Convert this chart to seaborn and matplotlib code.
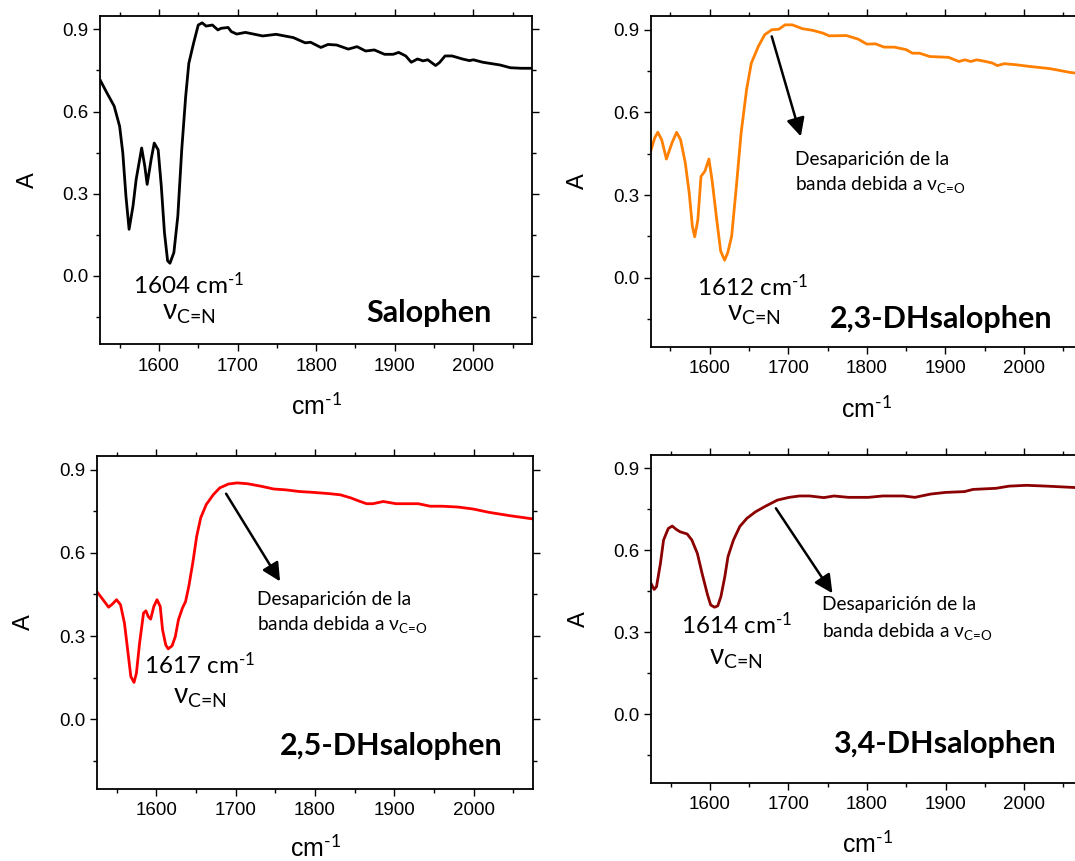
import matplotlib
matplotlib.use("Agg")
import matplotlib.pyplot as plt
from matplotlib.ticker import FixedLocator, MultipleLocator, FormatStrFormatter
import pandas as pd
import seaborn as sns

# ---------------------------------------------------------------- data
# Wavenumbers (cm-1) and absorbance for each compound
salophen_wn = [1525, 1534, 1543, 1550, 1554, 1558, 1562, 1567, 1571, 1578, 1582, 1585,
               1590, 1594, 1599, 1603, 1607, 1611, 1614, 1619, 1624, 1629, 1634, 1638,
               1644, 1650, 1655, 1660, 1668, 1675, 1679, 1688, 1692, 1699, 1710, 1732,
               1749, 1771, 1786, 1793, 1806, 1815, 1826, 1841, 1852, 1863, 1874, 1887,
               1898, 1905, 1914, 1921, 1929, 1936, 1942, 1952, 1957, 1964, 1973, 1986,
               1995, 2000, 2012, 2034, 2047, 2061, 2075]
salophen_abs = [0.716, 0.667, 0.620, 0.546, 0.449, 0.291, 0.170, 0.255, 0.352, 0.467, 0.400, 0.334,
                0.424, 0.485, 0.460, 0.327, 0.158, 0.055, 0.046, 0.085, 0.218, 0.461, 0.655, 0.776,
                0.849, 0.916, 0.924, 0.912, 0.916, 0.898, 0.904, 0.907, 0.892, 0.883, 0.889, 0.876,
                0.882, 0.870, 0.851, 0.853, 0.834, 0.845, 0.843, 0.828, 0.837, 0.821, 0.825, 0.809,
                0.809, 0.816, 0.803, 0.780, 0.792, 0.785, 0.789, 0.768, 0.779, 0.803, 0.803, 0.792,
                0.786, 0.789, 0.780, 0.770, 0.760, 0.758, 0.758]

dh23_wn = [1525, 1530, 1534, 1539, 1545, 1552, 1558, 1563, 1569, 1574, 1578, 1581,
           1585, 1589, 1594, 1599, 1603, 1609, 1614, 1619, 1623, 1628, 1634, 1640,
           1647, 1653, 1662, 1670, 1679, 1688, 1696, 1705, 1718, 1731, 1744, 1752,
           1774, 1789, 1800, 1811, 1822, 1835, 1850, 1858, 1867, 1880, 1904, 1917,
           1925, 1932, 1940, 1951, 1960, 1966, 1975, 1990, 2007, 2033, 2059, 2075]
dh23_abs = [0.459, 0.507, 0.528, 0.501, 0.431, 0.489, 0.528, 0.501, 0.417, 0.308, 0.187, 0.149,
            0.211, 0.368, 0.387, 0.431, 0.356, 0.211, 0.097, 0.064, 0.091, 0.151, 0.332, 0.525,
            0.683, 0.779, 0.840, 0.882, 0.900, 0.902, 0.918, 0.918, 0.904, 0.898, 0.888, 0.878,
            0.879, 0.866, 0.848, 0.849, 0.837, 0.837, 0.828, 0.815, 0.815, 0.803, 0.800, 0.785,
            0.791, 0.785, 0.791, 0.785, 0.779, 0.770, 0.777, 0.773, 0.767, 0.759, 0.745, 0.740]

dh25_wn = [1525, 1533, 1540, 1545, 1550, 1555, 1560, 1564, 1568, 1572, 1575, 1579,
           1584, 1587, 1590, 1593, 1597, 1601, 1605, 1608, 1612, 1615, 1620, 1624,
           1628, 1633, 1637, 1641, 1646, 1651, 1656, 1663, 1672, 1680, 1691, 1702,
           1715, 1732, 1748, 1763, 1780, 1797, 1819, 1832, 1845, 1856, 1865, 1873,
           1886, 1902, 1930, 1945, 1960, 1980, 1999, 2019, 2045, 2075]
dh25_abs = [0.461, 0.431, 0.404, 0.416, 0.431, 0.413, 0.346, 0.250, 0.154, 0.133, 0.166, 0.274,
            0.383, 0.391, 0.370, 0.361, 0.407, 0.431, 0.407, 0.322, 0.268, 0.254, 0.265, 0.298,
            0.359, 0.401, 0.425, 0.479, 0.563, 0.660, 0.726, 0.774, 0.810, 0.834, 0.848, 0.852,
            0.849, 0.840, 0.830, 0.827, 0.821, 0.818, 0.813, 0.809, 0.798, 0.786, 0.777, 0.777,
            0.785, 0.777, 0.777, 0.768, 0.768, 0.765, 0.758, 0.746, 0.734, 0.722]

dh34_wn = [1525, 1529, 1532, 1537, 1541, 1547, 1552, 1557, 1562, 1571, 1577, 1584,
           1590, 1597, 1601, 1606, 1610, 1614, 1619, 1623, 1630, 1638, 1647, 1658,
           1671, 1686, 1701, 1714, 1727, 1745, 1758, 1776, 1802, 1820, 1846, 1861,
           1881, 1900, 1924, 1935, 1964, 1981, 2003, 2029, 2064, 2075]
dh34_abs = [0.479, 0.457, 0.467, 0.552, 0.638, 0.680, 0.689, 0.677, 0.668, 0.660, 0.638, 0.589,
            0.516, 0.437, 0.400, 0.392, 0.397, 0.431, 0.504, 0.577, 0.638, 0.687, 0.717, 0.741,
            0.762, 0.784, 0.794, 0.799, 0.799, 0.793, 0.799, 0.794, 0.794, 0.799, 0.799, 0.794,
            0.806, 0.812, 0.815, 0.823, 0.827, 0.835, 0.838, 0.835, 0.830, 0.830]

compound_names = ["Salophen", "2,3-DHsalophen", "2,5-DHsalophen", "3,4-DHsalophen"]
band_labels = ["1604", "1612", "1617", "1614"]
y_ticks = [0.0, 0.3, 0.6, 0.9]
x_ticks = [1600, 1700, 1800, 1900, 2000]

# ---------------------------------------------------------------- style
sns.set_style("ticks")
plt.rcParams["font.family"] = ["Liberation Sans", "DejaVu Sans"]
plt.rcParams["mathtext.fontset"] = "custom"
plt.rcParams["mathtext.rm"] = "Lato"
plt.rcParams["mathtext.it"] = "Lato:italic"
plt.rcParams["mathtext.bf"] = "Lato:bold"
for key in ("text.color", "axes.labelcolor", "xtick.color", "ytick.color",
            "xtick.labelcolor", "ytick.labelcolor"):
    plt.rcParams[key] = "black"

W, H = 1075, 861
fig = plt.figure(figsize=(W / 100, H / 100), dpi=100)
fig.patch.set_facecolor("white")


def frac(left, top, right, bottom):
    return [left / W, 1 - bottom / H, (right - left) / W, (bottom - top) / H]


panels = [
    dict(wn=salophen_wn, ab=salophen_abs, color="#000000",
         box=(100, 15.7, 532.3, 344.3), xlab_y=-0.148,
         band=(1638, -0.067), nu=(1638, -0.158), name=(1943, -0.170), arrow=None),
    dict(wn=dh23_wn, ab=dh23_abs, color="#FF8000",
         box=(650.7, 16.0, 1083.0, 346.7), xlab_y=-0.148,
         band=(1655, -0.066), nu=(1656, -0.156), name=(1895, -0.181),
         arrow=((1679, 0.876), (1716, 0.513)), note=(1709, 0.411, 0.320)),
    dict(wn=dh25_wn, ab=dh25_abs, color="#FF0000",
         box=(96.7, 455.7, 533.3, 788.7), xlab_y=-0.138,
         band=(1654, 0.164), nu=(1655, 0.056), name=(1896, -0.129),
         arrow=((1688, 0.813), (1756, 0.497)), note=(1727, 0.413, 0.322)),
    dict(wn=dh34_wn, ab=dh34_abs, color="#8B0000",
         box=(651.0, 454.7, 1083.0, 782.7), xlab_y=-0.148,
         band=(1634, 0.296), nu=(1633, 0.184), name=(1898, -0.143),
         arrow=((1684, 0.754), (1756, 0.443)), note=(1743, 0.382, 0.284)),
]

for p, name, band in zip(panels, compound_names, band_labels):
    ax = fig.add_axes(frac(*p["box"]))
    df = pd.DataFrame({"wn": p["wn"], "A": p["ab"]})
    sns.lineplot(data=df, x="wn", y="A", ax=ax, color=p["color"], linewidth=2.0,
                 estimator=None, legend=False)

    ax.set_xlim(1525, 2075)
    ax.set_ylim(-0.25, 0.95)
    ax.xaxis.set_major_locator(FixedLocator(x_ticks))
    ax.xaxis.set_minor_locator(MultipleLocator(50))
    ax.yaxis.set_major_locator(FixedLocator(y_ticks))
    ax.yaxis.set_minor_locator(FixedLocator([-0.15, 0.15, 0.45, 0.75]))
    ax.yaxis.set_major_formatter(FormatStrFormatter("%.1f"))

    for s in ax.spines.values():
        s.set_visible(True)
        s.set_linewidth(1.3)
        s.set_color("black")
    ax.tick_params(which="both", direction="out", top=True, right=True,
                   labeltop=False, labelright=False, color="black", width=1.0)
    ax.tick_params(which="major", length=4.8, labelsize=13.5, pad=3.5)
    ax.tick_params(axis="x", which="major", pad=5)
    ax.tick_params(which="minor", length=3.0)

    ax.set_xlabel("cm$^{\\text{-1}}$", fontsize=18)
    ax.set_ylabel("A", fontsize=17)
    ax.xaxis.set_label_coords(0.5, p["xlab_y"])
    ax.yaxis.set_label_coords(-0.142, 0.5)

    # band position and assignment
    ax.text(*p["band"], band + " cm$^{\\text{-1}}$", family="Lato", fontsize=17.5,
            ha="center", va="baseline")
    ax.text(*p["nu"], "$\\mathrm{\\nu}_{\\text{C=N}}$", fontsize=20,
            ha="center", va="baseline")
    ax.text(*p["name"], name, family="Lato", fontweight="bold", fontsize=22,
            ha="center", va="baseline")

    if p["arrow"] is not None:
        tail, tip = p["arrow"]
        ax.annotate("", xy=tip, xytext=tail,
                    arrowprops=dict(arrowstyle="-|>,head_length=0.5,head_width=0.25",
                                    color="black", lw=1.8, mutation_scale=22,
                                    shrinkA=0, shrinkB=0))
        nx, ny1, ny2 = p["note"]
        ax.text(nx, ny1, "Desaparición de la", family="Lato", fontsize=13.8,
                ha="left", va="baseline")
        ax.text(nx, ny2, "banda debida a $\\mathrm{\\nu}_{\\text{C=O}}$", family="Lato",
                fontsize=13.8, ha="left", va="baseline")

fig.savefig("out.png", dpi=100, facecolor="white")
